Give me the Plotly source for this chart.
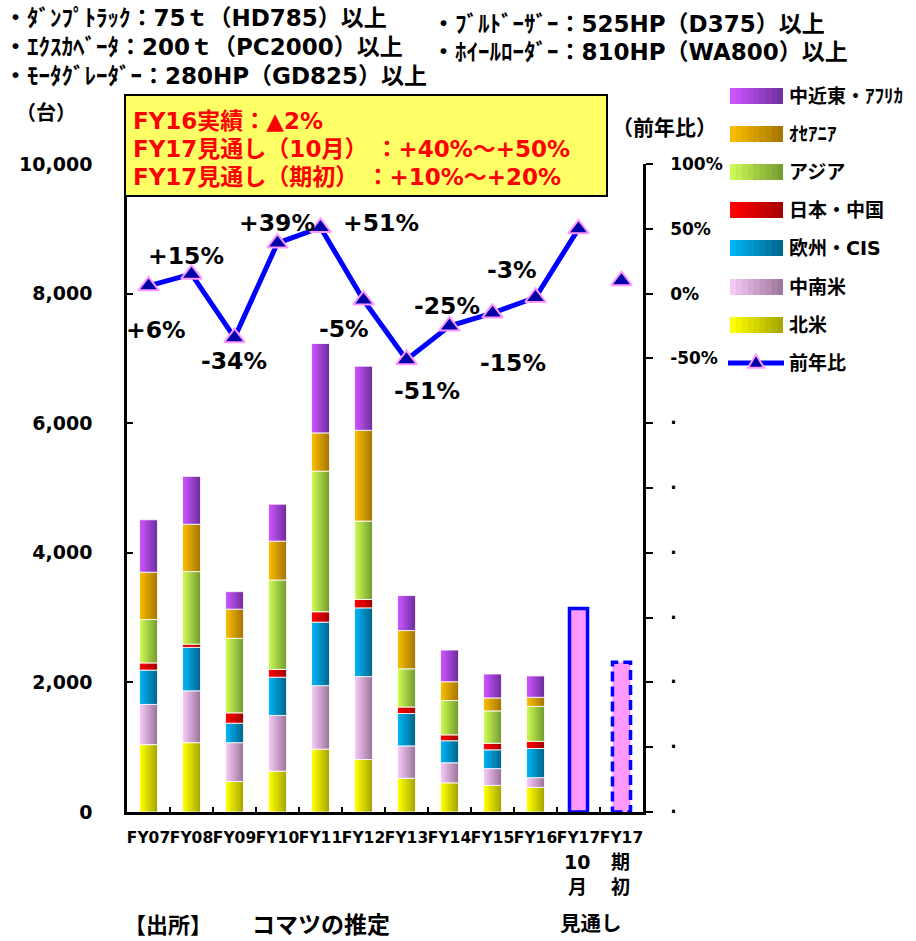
import plotly.graph_objects as go

# ---- data -------------------------------------------------------------
CATEGORIES = ["FY07", "FY08", "FY09", "FY10", "FY11", "FY12", "FY13",
              "FY14", "FY15", "FY16", "FY17(10月)", "FY17(期初)"]
TICK_LABELS = ["FY07", "FY08", "FY09", "FY10", "FY11", "FY12", "FY13",
               "FY14", "FY15", "FY16", "FY17", "FY17"]
ACTUAL = CATEGORIES[:10]

REGIONS = ["北米", "中南米", "欧州・CIS", "日本・中国", "アジア", "ｵｾｱﾆｱ", "中近東・ｱﾌﾘｶ"]
north_america = [1040, 1070, 470, 630, 970, 810, 520, 450, 410, 380]
latin_america = [620, 800, 600, 860, 980, 1280, 500, 310, 260, 150]
europe_cis = [530, 670, 300, 590, 980, 1060, 500, 340, 290, 450]
japan_china = [110, 50, 160, 120, 160, 130, 100, 90, 100, 110]
asia = [670, 1120, 1150, 1380, 2170, 1210, 590, 530, 500, 540]
oceania = [730, 730, 450, 600, 590, 1400, 590, 290, 200, 140]
mideast_africa = [810, 740, 270, 570, 1380, 990, 540, 490, 370, 330]
SERIES = [north_america, latin_america, europe_cis, japan_china, asia, oceania, mideast_africa]

forecast_oct = 3140      # FY17 見通し（10月）
forecast_initial = 2310  # FY17 見通し（期初）

YOY = [6, 15, -34, 39, 51, -5, -51, -25, -15, -3, 50, 10]  # 前年比 (%)

# ---- styling ----------------------------------------------------------
W, H = 916, 941
ML, MR, MT, MB = 127, 273, 164, 129
PW, PH = W - ML - MR, H - MT - MB
FONT = "DejaVu Sans, Noto Sans CJK JP, sans-serif"
BW = 0.42      # bar width in category units
NS = 9         # strips used for the horizontal shading of each bar

COLORS = {
    "北米": ("#FFFF00", "#A8A800"),
    "中南米": ("#F5C8F5", "#9E789E"),
    "欧州・CIS": ("#00B4F5", "#006890"),
    "日本・中国": ("#FF0000", "#A80000"),
    "アジア": ("#CCF855", "#76A030"),
    "ｵｾｱﾆｱ": ("#F8BC00", "#A87800"),
    "中近東・ｱﾌﾘｶ": ("#CC55FF", "#7030A0"),
}
LINE_BLUE = "#0000FF"
MARKER_FILL = "#0000A8"
PINK = "#FF99FF"


def blend(c1, c2, t):
    a = [int(c1[i:i + 2], 16) for i in (1, 3, 5)]
    b = [int(c2[i:i + 2], 16) for i in (1, 3, 5)]
    return "#" + "".join(f"{round(x + (y - x) * t):02X}" for x, y in zip(a, b))


def px(x):
    return (x - ML) / PW


def py(y):
    return (H - MB - y) / PH


fig = go.Figure()

# stacked regional bars, each drawn as shaded vertical strips
base = [0] * len(ACTUAL)
sw = BW / NS
for name, vals in zip(REGIONS, SERIES):
    c1, c2 = COLORS[name]
    for k in range(NS):
        fig.add_trace(go.Bar(
            x=ACTUAL, y=vals, base=base,
            width=sw * (1.35 if k < NS - 1 else 1.0),
            offset=-BW / 2 + k * sw,
            marker=dict(color=blend(c1, c2, k / (NS - 1)), line=dict(width=0)),
            showlegend=False, hoverinfo="skip"))
    fig.add_trace(go.Bar(
        x=ACTUAL, y=vals, base=base, width=BW, offset=-BW / 2,
        marker=dict(color="rgba(0,0,0,0)",
                    line=dict(color="rgba(255,255,255,0.85)", width=1)),
        showlegend=False, hoverinfo="skip"))
    base = [b + v for b, v in zip(base, vals)]

# FY17 forecast bars
fig.add_trace(go.Bar(
    x=[CATEGORIES[10]], y=[forecast_oct], width=BW, offset=-BW / 2,
    marker=dict(color=PINK, line=dict(color=LINE_BLUE, width=3.5)),
    showlegend=False, hoverinfo="skip"))
fig.add_trace(go.Bar(
    x=[CATEGORIES[11]], y=[forecast_initial], width=BW, offset=-BW / 2,
    marker=dict(color=PINK, line=dict(width=0)),
    showlegend=False, hoverinfo="skip"))
idx_initial = CATEGORIES.index(CATEGORIES[11])
shapes = [dict(type="rect", xref="x", yref="y",
               x0=idx_initial - BW / 2, x1=idx_initial + BW / 2,
               y0=0, y1=forecast_initial,
               line=dict(color=LINE_BLUE, width=3.5, dash="10px,5px"),
               fillcolor="rgba(0,0,0,0)", layer="above")]

# year-on-year line
marker_style = dict(symbol="triangle-up", size=18, color=MARKER_FILL,
                    line=dict(color=PINK, width=2))
fig.add_trace(go.Scatter(
    x=CATEGORIES[:11], y=YOY[:11], yaxis="y2", mode="lines+markers",
    line=dict(color=LINE_BLUE, width=5), marker=marker_style,
    showlegend=False, hoverinfo="skip"))
fig.add_trace(go.Scatter(
    x=[CATEGORIES[11]], y=[YOY[11]], yaxis="y2", mode="markers",
    marker=marker_style, showlegend=False, hoverinfo="skip"))

annotations = []

# labels on the line points (pixel offsets from each point)
LABEL_SHIFTS = [(7, -44), (-6, 18), (-1, -23), (-1, 20), (60, 5),
                (-20, -29), (20, -31), (-3, 20), (20, -50), (-24, 27)]
for i, (dx, dy) in enumerate(LABEL_SHIFTS):
    annotations.append(dict(
        x=CATEGORIES[i], y=YOY[i], xref="x", yref="y2", showarrow=False,
        text=f"{YOY[i]:+d}%", xshift=dx, yshift=dy,
        font=dict(family=FONT, size=23.5, color="black", weight="bold")))


def label(text, x, y, size, color="black", xanchor="left"):
    annotations.append(dict(
        x=px(x), y=py(y), xref="paper", yref="paper", showarrow=False,
        text=text, xanchor=xanchor, yanchor="middle",
        font=dict(family=FONT, size=size, color=color, weight="bold")))


# header lines
label("・ﾀﾞﾝﾌﾟﾄﾗｯｸ：75ｔ（HD785）以上", 2, 18, 23)
label("・ｴｸｽｶﾍﾞｰﾀ：200ｔ（PC2000）以上", 2, 47, 23)
label("・ﾓｰﾀｸﾞﾚｰﾀﾞｰ：280HP（GD825）以上", 2, 76, 23)
label("・ﾌﾞﾙﾄﾞｰｻﾞｰ：525HP（D375）以上", 430, 24, 23)
label("・ﾎｲｰﾙﾛｰﾀﾞｰ：810HP（WA800）以上", 430, 52, 23)

# callout box
shapes.append(dict(type="rect", xref="paper", yref="paper",
                   x0=px(125), x1=px(607), y0=py(196), y1=py(95),
                   fillcolor="#FFFF66", line=dict(color="black", width=2),
                   layer="above"))
label("FY16実績：▲2%", 131, 121, 23, "#FF0000")
label("FY17見通し（10月） ：+40%～+50%", 131, 149, 23, "#FF0000")
label("FY17見通し（期初） ：+10%～+20%", 131, 177, 23, "#FF0000")

# axis captions
label("（台）", 46, 113, 20, xanchor="center")
label("（前年比）", 664, 128, 21, xanchor="center")

# forecast sub-labels and footer
label("10", 577, 862, 19, xanchor="center")
label("月", 577, 887, 19, xanchor="center")
label("期", 620, 862, 19, xanchor="center")
label("初", 620, 887, 19, xanchor="center")
label("見通し", 591, 924, 20.5, xanchor="center")
label("【出所】", 122, 925, 22)
label("コマツの推定", 250, 925, 23)

# legend
LEGEND_ITEMS = list(reversed(REGIONS))
LEGEND_Y = [96, 134, 172, 210, 248, 287, 325]
SX0, SX1 = 730, 783
for name, yc in zip(LEGEND_ITEMS, LEGEND_Y):
    c1, c2 = COLORS[name]
    step = (SX1 - SX0) / NS
    for k in range(NS):
        shapes.append(dict(
            type="rect", xref="paper", yref="paper",
            x0=px(SX0 + k * step), x1=px(SX0 + (k + 1) * step + (0.6 if k < NS - 1 else 0)),
            y0=py(yc + 8), y1=py(yc - 8),
            fillcolor=blend(c1, c2, k / (NS - 1)), line=dict(width=0), layer="above"))
    label(name, 787, yc, 19)

ly = 363
shapes.append(dict(type="line", xref="paper", yref="paper",
                   x0=px(728), x1=px(784), y0=py(ly), y1=py(ly),
                   line=dict(color=LINE_BLUE, width=5), layer="above"))
tx, ts = 756, 8
shapes.append(dict(
    type="path", xref="paper", yref="paper",
    path=(f"M {px(tx - ts)},{py(ly + ts * 0.6)} L {px(tx + ts)},{py(ly + ts * 0.6)} "
          f"L {px(tx)},{py(ly - ts * 1.05)} Z"),
    fillcolor=MARKER_FILL, line=dict(color=PINK, width=2), layer="above"))
label("前年比", 787, ly, 19)

yoy_ticks = list(range(-400, 101, 50))
yoy_text = [f"{v}%" if v >= -50 else "·" for v in yoy_ticks]

fig.update_layout(
    width=W, height=H,
    margin=dict(l=ML, r=MR, t=MT, b=MB, autoexpand=False),
    paper_bgcolor="white", plot_bgcolor="white",
    barmode="overlay", showlegend=False,
    font=dict(family=FONT, color="black"),
    xaxis=dict(
        type="category", categoryorder="array", categoryarray=CATEGORIES,
        tickvals=CATEGORIES, ticktext=TICK_LABELS, tickangle=0,
        range=[-0.5, len(CATEGORIES) - 0.5],
        showline=True, linecolor="black", linewidth=3,
        ticks="inside", tickson="boundaries", ticklen=5, tickwidth=1.5,
        tickcolor="black", ticklabelstandoff=9,
        tickfont=dict(family=FONT, size=15.5, weight="bold"),
        showgrid=False, zeroline=False),
    yaxis=dict(
        range=[0, 10000], tickvals=list(range(0, 10001, 2000)), tickformat=",d",
        showline=True, linecolor="black", linewidth=2.5,
        ticks="inside", ticklen=6, tickwidth=1.5, tickcolor="black",
        ticklabelstandoff=28,
        tickfont=dict(family=FONT, size=19, weight="bold"),
        showgrid=False, zeroline=False),
    yaxis2=dict(
        overlaying="y", side="right", range=[-400, 100],
        tickvals=yoy_ticks, ticktext=yoy_text,
        showline=True, linecolor="black", linewidth=2.5,
        ticks="outside", ticklen=7, tickwidth=1.5, tickcolor="black",
        ticklabelstandoff=14,
        tickfont=dict(family=FONT, size=17, weight="bold"),
        showgrid=False, zeroline=False),
    shapes=shapes, annotations=annotations,
)

fig.write_html("out.html")
